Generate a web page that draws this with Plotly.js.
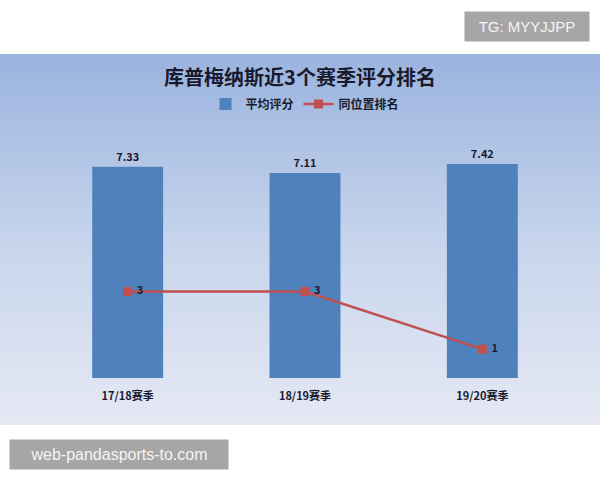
<!DOCTYPE html>
<html>
<head>
<meta charset="utf-8">
<script src="https://cdn.plot.ly/plotly-3.0.1.min.js"></script>
<style>
  body { margin: 0; background: #fff; }
  #wrap { position: relative; width: 600px; height: 480px; }
  #bg { position: absolute; left: 0; top: 54px; width: 600px; height: 371px;
        background: linear-gradient(#9ab3de, #c6d4ec 50%, #e6e9f4); }
  #chart { position: absolute; left: 0; top: 0; width: 600px; height: 480px; }
</style>
</head>
<body>
<div id="wrap">
  <div id="bg"></div>
  <div id="chart"></div>
</div>
<script>
var seasons = ['17/18赛季', '18/19赛季', '19/20赛季'];
var avgRating = [7.33, 7.11, 7.42];
var samePosRank = [3, 3, 1];

var fontCJK = '"Noto Sans CJK SC", "Noto Sans", sans-serif';

var data = [
  {
    type: 'bar',
    name: '平均评分',
    x: seasons,
    y: avgRating,
    width: 0.4,
    marker: {color: '#4f81bd'},
    text: avgRating.map(function(v) { return v.toFixed(2); }),
    textposition: 'outside',
    textfont: {family: fontCJK, size: 11, color: '#1a1a2e', weight: 'bold'},
    cliponaxis: false
  },
  {
    type: 'scatter',
    mode: 'lines+markers+text',
    name: '同位置排名',
    x: seasons,
    y: samePosRank,
    line: {color: '#c0504d', width: 2.5},
    marker: {color: '#c0504d', symbol: 'square', size: 9},
    text: samePosRank.map(function(v) { return '&nbsp;' + v; }),
    textposition: 'middle right',
    textfont: {family: fontCJK, size: 11, color: '#1a1a2e', weight: 'bold'}
  }
];

var layout = {
  width: 600,
  height: 480,
  margin: {l: 39, r: 29, t: 117, b: 102},
  paper_bgcolor: 'rgba(0,0,0,0)',
  plot_bgcolor: 'rgba(0,0,0,0)',
  showlegend: true,
  bargap: 0.6,
  title: {
    text: '库普梅纳斯近3个赛季评分排名',
    font: {family: fontCJK, size: 20, color: '#1a1a2e', weight: 'bold'},
    x: 0.5, xanchor: 'center',
    yref: 'container', y: 1 - 78 / 480, yanchor: 'middle'
  },
  legend: {
    orientation: 'h',
    x: 0.5, xanchor: 'center',
    yref: 'container', y: 1 - 104 / 480, yanchor: 'middle',
    font: {family: fontCJK, size: 12, color: '#1a1a2e', weight: 'bold'},
    bgcolor: 'rgba(0,0,0,0)',
    itemwidth: 30,
    tracegroupgap: 0
  },
  xaxis: {
    showgrid: false,
    showline: false,
    zeroline: false,
    ticks: '',
    ticklabelstandoff: 10,
    tickfont: {family: fontCJK, size: 11, color: '#1a1a2e', weight: 'bold'},
    range: [-0.5, 2.5]
  },
  yaxis: {
    range: [0, 9],
    visible: false,
    showgrid: false,
    zeroline: false
  },
  annotations: [
    {
      xref: 'paper', yref: 'paper',
      x: (527 - 39) / 532, y: (378 - 24.5) / 261,
      xanchor: 'center', yanchor: 'middle',
      text: 'TG: MYYJJPP',
      showarrow: false,
      bgcolor: '#a6a6a6',
      width: 124, height: 29, borderpad: 0,
      font: {family: '"Liberation Sans", Arial, sans-serif', size: 15, color: '#f5f5f5'}
    },
    {
      xref: 'paper', yref: 'paper',
      x: (119 - 39) / 532, y: (378 - 454.5) / 261,
      xanchor: 'center', yanchor: 'middle',
      text: 'web-pandasports-to.com',
      showarrow: false,
      bgcolor: '#a6a6a6',
      width: 218, height: 29, borderpad: 0,
      font: {family: '"Liberation Sans", Arial, sans-serif', size: 16, color: '#f5f5f5'}
    }
  ]
};

Plotly.newPlot('chart', data, layout, {displayModeBar: false, staticPlot: true});
</script>
</body>
</html>
